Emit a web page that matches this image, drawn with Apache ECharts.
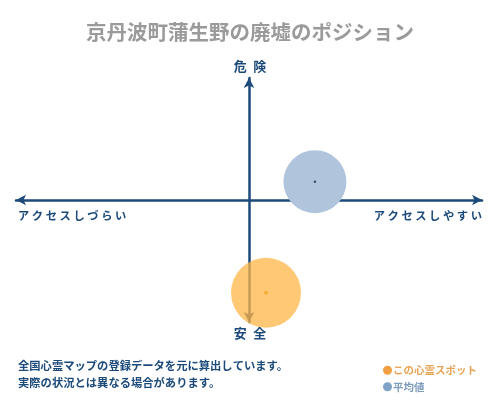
<!DOCTYPE html>
<html>
<head>
<meta charset="utf-8">
<script src="https://cdn.jsdelivr.net/npm/echarts@6/dist/echarts.min.js"></script>
<style>
html, body { margin: 0; padding: 0; background: #fff; }
#main { width: 500px; height: 400px; }
</style>
</head>
<body>
<div id="main"></div>
<script>
var titleText = '京丹波町蒲生野の廃墟のポジション';
var seriesNames = ['この心霊スポット', '平均値'];
// [access, danger]
var spotPoint = [0.073, -0.76];
var avgPoint = [0.283, 0.15];
var bubbleSizes = [70, 63];
var axisLabels = ['危\u2002険', '安\u2002全', 'ア ク セ ス し づ ら い', 'ア ク セ ス し や す い'];
var noteLines = ['全国心霊マップの登録データを元に算出しています。', '実際の状況とは異なる場合があります。'];

var navy = '#1c4a7a';
var font = '"Noto Sans CJK JP", "Noto Sans", sans-serif';

var myChart = echarts.init(document.getElementById('main'));
var option = {
    backgroundColor: '#fff',
    animation: false,
    title: {
        text: titleText,
        left: 'center',
        top: 17,
        textStyle: { color: '#9a9a9a', fontSize: 20.5, fontWeight: 'bold', fontFamily: font }
    },
    grid: { left: 16, right: 18, top: 78, bottom: 78 },
    xAxis: {
        type: 'value', min: -1, max: 1,
        axisLine: { onZero: true, symbol: ['arrow', 'arrow'], symbolSize: [8, 10], lineStyle: { color: navy, width: 2.5 } },
        axisTick: { show: false }, axisLabel: { show: false }, splitLine: { show: false }
    },
    yAxis: {
        type: 'value', min: -1, max: 1,
        axisLine: { onZero: true, symbol: ['arrow', 'arrow'], symbolSize: [8, 10], lineStyle: { color: navy, width: 2.5 } },
        axisTick: { show: false }, axisLabel: { show: false }, splitLine: { show: false }
    },
    legend: {
        orient: 'vertical',
        left: 378, top: 360,
        itemWidth: 9, itemHeight: 9, itemGap: 6,
        icon: 'circle',
        textStyle: { fontSize: 10.5, fontFamily: font, fontWeight: 'bold', padding: [0, 0, 0, -4] },
        data: [
            { name: seriesNames[0], itemStyle: { color: '#f0a040', opacity: 1 }, textStyle: { color: '#e8a456' } },
            { name: seriesNames[1], itemStyle: { color: '#7ea3c6', opacity: 1 }, textStyle: { color: '#7e9cbc' } }
        ]
    },
    series: [
        {
            name: seriesNames[1], type: 'scatter', z: 1,
            symbolSize: bubbleSizes[1],
            itemStyle: { color: '#b0c4dc', opacity: 1 },
            data: [avgPoint]
        },
        {
            name: seriesNames[1] + '_c', type: 'scatter', z: 4,
            symbolSize: 2.5,
            itemStyle: { color: '#1c2c44' },
            data: [avgPoint]
        },
        {
            name: seriesNames[0], type: 'scatter', z: 3,
            symbolSize: bubbleSizes[0],
            itemStyle: { color: '#ffb547', opacity: 0.75 },
            data: [spotPoint]
        },
        {
            name: seriesNames[0] + '_c', type: 'scatter', z: 4,
            symbolSize: 4,
            itemStyle: { color: '#f5a623' },
            data: [spotPoint]
        }
    ],
    graphic: [
        { type: 'text', left: 'center', top: 60, style: { text: axisLabels[0], fill: navy, font: 'bold 13px ' + font } },
        { type: 'text', left: 'center', top: 327, style: { text: axisLabels[1], fill: navy, font: 'bold 13px ' + font } },
        { type: 'text', left: 18, top: 210, style: { text: axisLabels[2], fill: navy, font: 'bold 11.3px ' + font } },
        { type: 'text', right: 18, top: 210, style: { text: axisLabels[3], fill: navy, font: 'bold 11.3px ' + font } },
        { type: 'text', left: 18, top: 360, style: { text: noteLines[0], fill: navy, font: 'bold 11.3px ' + font } },
        { type: 'text', left: 18, top: 377, style: { text: noteLines[1], fill: navy, font: 'bold 11.3px ' + font } }
    ]
};
myChart.setOption(option);
</script>
</body>
</html>
